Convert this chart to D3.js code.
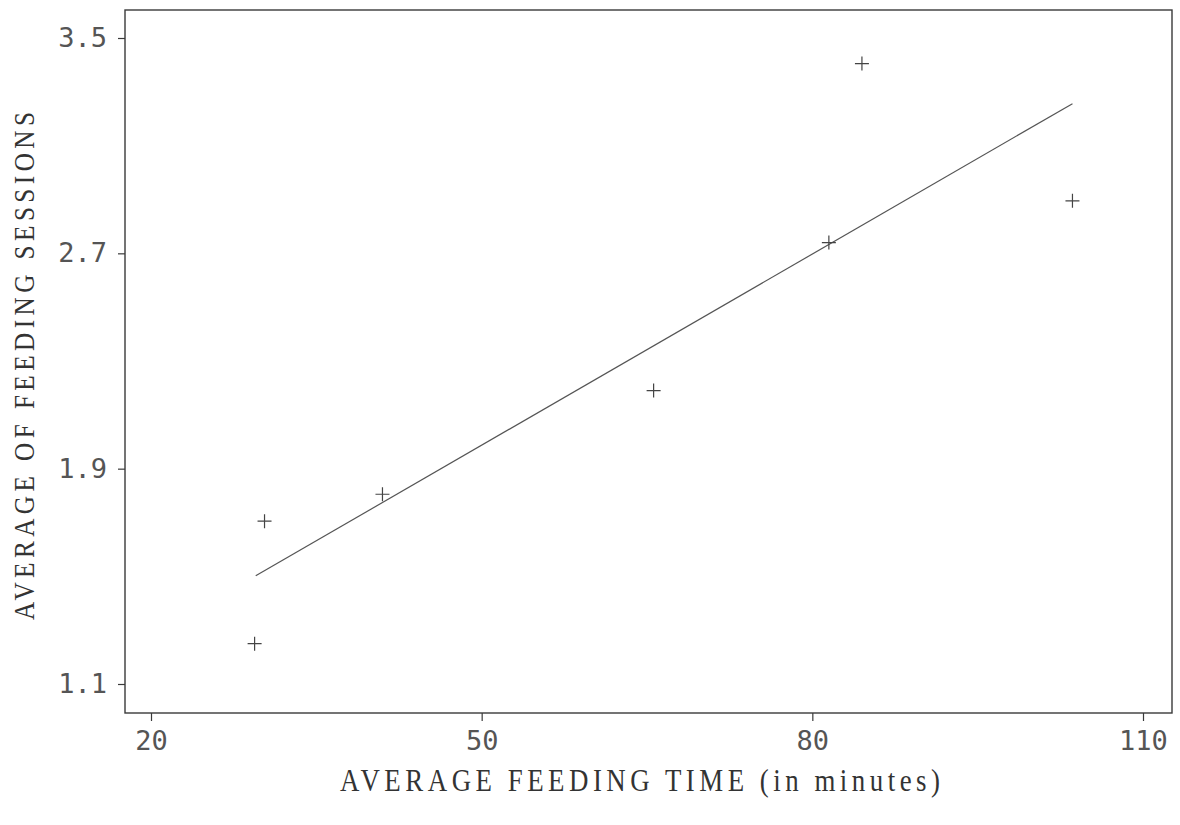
<!DOCTYPE html>
<html>
<head>
<meta charset="utf-8">
<script src="https://cdn.jsdelivr.net/npm/d3@7"></script>
<style>
  html, body { margin: 0; padding: 0; background: #fff; }
  svg { display: block; }
</style>
</head>
<body>
<svg id="chart" width="1180" height="825"></svg>
<script>
// Data
const feedingTime = [29.4, 30.3, 41.0, 65.6, 81.5, 84.5, 103.6];
const feedingSessions = [1.25, 1.705, 1.805, 2.19, 2.74, 3.405, 2.895];
// Fitted line endpoints as drawn
const fitX = [29.5, 103.6];
const fitY = [1.502, 3.256];
const xTicks = [20, 50, 80, 110];
const yTicks = [1.1, 1.9, 2.7, 3.5];
const xTitle = "AVERAGE FEEDING TIME (in minutes)";
const yTitle = "AVERAGE OF FEEDING SESSIONS";

const svg = d3.select("#chart");
const frame = { left: 125, right: 1172, top: 10, bottom: 713 };

const x = d3.scaleLinear().domain([20, 110]).range([151, 1143]);
const y = d3.scaleLinear().domain([1.1, 3.5]).range([684, 38]);

const ink = "#3a3a3a";

// Frame
svg.append("rect")
  .attr("x", frame.left).attr("y", frame.top)
  .attr("width", frame.right - frame.left)
  .attr("height", frame.bottom - frame.top)
  .attr("fill", "none").attr("stroke", ink).attr("stroke-width", 1.4);

// X axis
const xAxis = d3.axisBottom(x).tickValues(xTicks).tickSize(8).tickPadding(10)
  .tickFormat(d3.format("d"));
const gx = svg.append("g").attr("transform", `translate(0,${frame.bottom})`).call(xAxis);
gx.select(".domain").remove();
gx.selectAll(".tick line").attr("stroke", ink).attr("stroke-width", 1.2);
gx.selectAll(".tick text")
  .attr("fill", "#555")
  .style("font-family", "'DejaVu Sans Mono', monospace")
  .style("font-size", "27px");

// Y axis
const yAxis = d3.axisLeft(y).tickValues(yTicks).tickSize(7).tickPadding(11)
  .tickFormat(d3.format(".1f"));
const gy = svg.append("g").attr("transform", `translate(${frame.left},0)`).call(yAxis);
gy.select(".domain").remove();
gy.selectAll(".tick line").attr("stroke", ink).attr("stroke-width", 1.2);
gy.selectAll(".tick text")
  .attr("fill", "#555")
  .style("font-family", "'DejaVu Sans Mono', monospace")
  .style("font-size", "27px");

// Fit line
const fitData = fitX.map((d, i) => [d, fitY[i]]);
svg.append("path")
  .datum(fitData)
  .attr("fill", "none")
  .attr("stroke", "#555")
  .attr("stroke-width", 1.2)
  .attr("d", d3.line().x(d => x(d[0])).y(d => y(d[1])));

// Points as plus markers
const pts = feedingTime.map((d, i) => [d, feedingSessions[i]]);
const arm = 7;
const g = svg.append("g").attr("stroke", "#444").attr("stroke-width", 1.2);
g.selectAll("path.pt").data(pts).enter().append("path")
  .attr("class", "pt")
  .attr("d", d => {
    const cx = x(d[0]), cy = y(d[1]);
    return `M${cx - arm},${cy}H${cx + arm}M${cx},${cy - arm}V${cy + arm}`;
  });

// Axis titles (condensed serif glyphs with wide spacing, like the plotter font)
const sx = 0.84;
svg.append("text")
  .attr("transform", `translate(640,791) scale(${sx},1)`)
  .attr("text-anchor", "middle")
  .attr("fill", "#333")
  .style("font-family", "'Liberation Serif', 'Times New Roman', serif")
  .style("font-size", "32px")
  .attr("textLength", 600 / sx)
  .attr("lengthAdjust", "spacing")
  .text(xTitle);

svg.append("text")
  .attr("transform", `translate(34,366) rotate(-90) scale(${sx},1)`)
  .attr("text-anchor", "middle")
  .attr("fill", "#333")
  .style("font-family", "'Liberation Serif', 'Times New Roman', serif")
  .style("font-size", "30px")
  .attr("textLength", 508 / sx)
  .attr("lengthAdjust", "spacing")
  .text(yTitle);
</script>
</body>
</html>
